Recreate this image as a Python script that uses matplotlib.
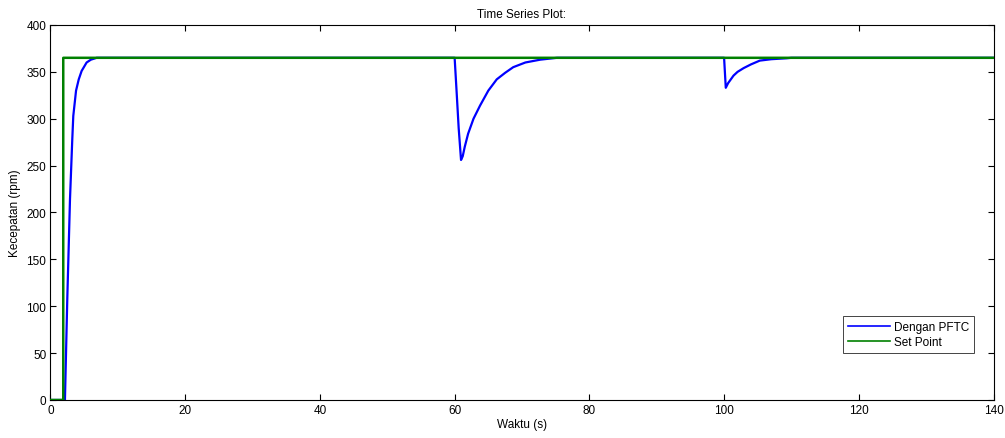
import matplotlib
matplotlib.use('Agg')
import matplotlib.pyplot as plt

# data
t_pftc = [0, 2.15, 2.5, 2.9, 3.24, 3.39, 3.8, 4.2, 4.63, 5.37, 6.0, 6.86, 8.0,
          60.0, 60.3, 60.6, 60.95, 61.2, 61.5, 62.0, 62.8, 63.77, 65.0, 66.25,
          67.5, 68.7, 70.5, 72.7, 75.2,
          100.0, 100.25, 100.6, 101.0, 101.4, 102.0, 102.9, 104.0, 105.3, 107.0,
          109.3, 110.0, 140.0]
v_pftc = [0, 0, 108, 214, 278, 303, 330, 342, 351, 360, 363, 365, 365,
          365, 328, 290, 256, 260, 270, 284, 300, 314, 330, 342,
          349, 355, 360, 363, 365,
          365, 333, 338, 342, 346, 350, 354, 358, 362, 363.5,
          364.5, 365, 365]

t_sp = [0, 1.9, 1.9, 140]
v_sp = [0, 0, 365, 365]

plt.rcParams['font.family'] = ['Liberation Sans', 'DejaVu Sans']
plt.rcParams['font.size'] = 8

fig = plt.figure(figsize=(10.05, 4.39), dpi=100)
ax = fig.add_axes([0.0502, 0.0866, 0.9384, 0.8542])

ax.plot(t_pftc, v_pftc, color='#0000ff', lw=1.6, label='Dengan PFTC',
        zorder=2, snap=False)
ax.plot(t_sp, v_sp, color='#008000', lw=1.8, label='Set Point',
        zorder=3, snap=False)

ax.set_xlim(0, 140)
ax.set_ylim(0, 400)
ax.set_xticks(range(0, 141, 20))
ax.set_yticks(range(0, 401, 50))
ax.tick_params(direction='in', top=True, right=True, length=4, width=0.8,
               labelsize=8.5, pad=3)
for s in ax.spines.values():
    s.set_linewidth(0.8)

ax.set_title('Time Series Plot:', fontsize=8.5, pad=6)
ax.set_xlabel('Waktu (s)', fontsize=8.5, labelpad=1)
ax.set_ylabel('Kecepatan (rpm)', fontsize=8.5, labelpad=4)

leg = ax.legend(loc='lower right', bbox_to_anchor=(0.979, 0.125), fontsize=8.5,
                fancybox=False, framealpha=1, edgecolor='#444444',
                handlelength=3.6, borderpad=0.4, labelspacing=0.3,
                handletextpad=0.3, borderaxespad=0)
leg.get_frame().set_linewidth(0.7)
for h in leg.get_lines():
    h.set_linewidth(1.2)

fig.savefig('out.png', dpi=100)
